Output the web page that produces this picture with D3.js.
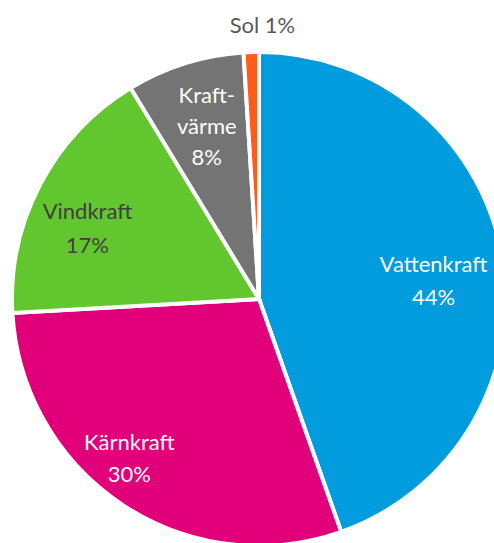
<!DOCTYPE html>
<html lang="sv">
<head>
<meta charset="UTF-8">
<title>Elproduktion</title>
<script src="https://cdn.jsdelivr.net/npm/d3@7"></script>
<style>
  body { margin: 0; background: #fff; }
  text { font-family: Lato, "Open Sans", sans-serif; font-size: 22px; }
</style>
</head>
<body>
<svg width="494" height="543"></svg>
<script>
// andel av elproduktionen, i procent
var sources = ["Vattenkraft", "Kärnkraft", "Vindkraft", "Kraftvärme", "Sol"];
var shares = [44.6, 29.5, 17.2, 7.7, 1.0];
var shareLabels = ["44%", "30%", "17%", "8%", "1%"];
var colors = ["#019cde", "#e2007a", "#62c62f", "#747474", "#ff5b1a"];

var data = sources.map(function(s, i) {
    return { name: s, value: shares[i], label: shareLabels[i] };
});

var cx = 259, cy = 299, r = 247;

var svg = d3.select("svg");
var g = svg.append("g").attr("transform", "translate(" + cx + "," + cy + ")");

var pie = d3.pie().sort(null).value(function(d) { return d.value; });
var arc = d3.arc().innerRadius(0).outerRadius(r);

var color = d3.scaleOrdinal().domain(sources).range(colors);

var arcs = pie(data);

g.selectAll("path")
    .data(arcs)
    .join("path")
    .attr("d", arc)
    .attr("fill", function(d) { return color(d.data.name); })
    .attr("stroke", "#fff")
    .attr("stroke-width", 4)
    .attr("stroke-linejoin", "miter");

// labels: lines, radius factor and where in the slice (0..1 of its angle) they sit
var lines = {
    "Vattenkraft": ["Vattenkraft", "%"],
    "Kärnkraft": ["Kärnkraft", "%"],
    "Vindkraft": ["Vindkraft", "%"],
    "Kraftvärme": ["Kraft-", "värme", "%"],
    "Sol": ["Sol %"]
};
var radFactor = { "Vattenkraft": 0.71, "Kärnkraft": 0.835, "Vindkraft": 0.75, "Kraftvärme": 0.727, "Sol": 1.105 };
var angFrac = { "Vattenkraft": 0.525, "Kärnkraft": 0.55, "Vindkraft": 0.41, "Kraftvärme": 0.52, "Sol": 1.2 };
var textColor = { "Vattenkraft": "#fff", "Kärnkraft": "#fff", "Vindkraft": "#404040", "Kraftvärme": "#fff", "Sol": "#595959" };
var lineGap = { "Vattenkraft": 33, "Kärnkraft": 32, "Vindkraft": 34, "Kraftvärme": 31, "Sol": 0 };

arcs.forEach(function(d) {
    var name = d.data.name;
    var txt = lines[name].map(function(l) { return l.replace("%", d.data.label); });
    var a = d.startAngle + (d.endAngle - d.startAngle) * angFrac[name];
    var rr = r * radFactor[name];
    var x = rr * Math.sin(a), y = -rr * Math.cos(a);
    var n = txt.length;
    var t = g.append("text")
        .attr("text-anchor", "middle")
        .attr("fill", textColor[name]);
    txt.forEach(function(line, i) {
        t.append("tspan")
            .attr("x", x)
            .attr("y", y + (i - (n - 1) / 2) * lineGap[name] + 7)
            .text(line);
    });
});
</script>
</body>
</html>
